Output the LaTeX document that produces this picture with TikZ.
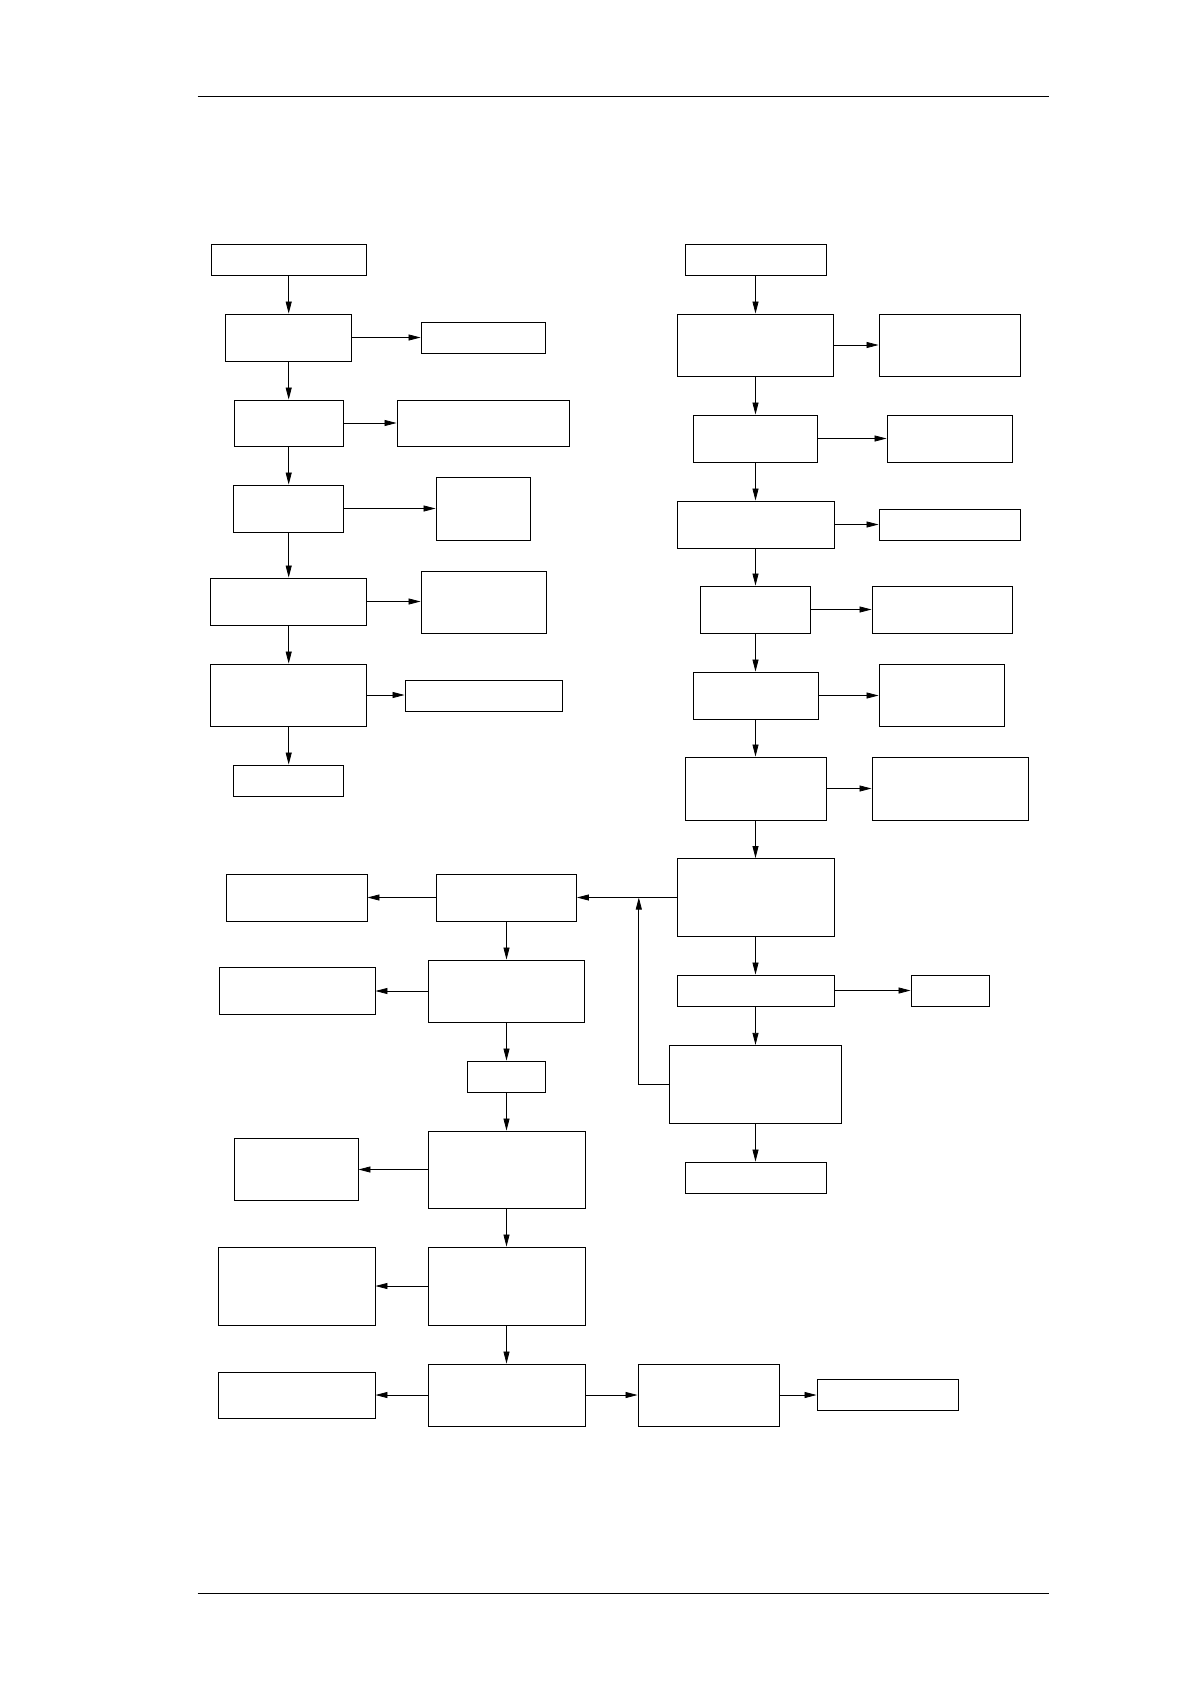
\documentclass[tikz,border=0pt]{standalone}
\usetikzlibrary{arrows.meta}
\begin{document}
\begin{tikzpicture}[x=1pt,y=-1pt,
  box/.style={draw=black,line width=0.9pt,rectangle,inner sep=0pt,fill=white},
  arr/.style={draw=black,line width=0.8pt,-{Triangle[length=12pt,width=6pt]}},
  rule/.style={draw=black,line width=0.8pt}]
\useasboundingbox[fill=white] (0,0) rectangle (1190,1684);
% header and footer rules
\draw[rule] (197.6,96) -- (1049.3,96);
\draw[rule] (197.6,1593) -- (1049.3,1593);
% left column
\node[box,minimum width=155pt,minimum height=31pt] (L1) at (288.7,259.5) {};
\node[box,minimum width=126pt,minimum height=47pt] (L2) at (288.7,337.5) {};
\node[box,minimum width=124pt,minimum height=31pt] (L2R) at (483,337.5) {};
\node[box,minimum width=109pt,minimum height=46pt] (L3) at (288.7,423) {};
\node[box,minimum width=172pt,minimum height=46pt] (L3R) at (483,423) {};
\node[box,minimum width=110pt,minimum height=47pt] (L4) at (288.7,508.5) {};
\node[box,minimum width=94pt,minimum height=63pt] (L4R) at (483,508.5) {};
\node[box,minimum width=156pt,minimum height=47pt] (L5) at (288.7,601.5) {};
\node[box,minimum width=125pt,minimum height=62pt] (L5R) at (483.5,602) {};
\node[box,minimum width=156pt,minimum height=62pt] (L6) at (288.7,695) {};
\node[box,minimum width=157pt,minimum height=31pt] (L6R) at (483.5,695.5) {};
\node[box,minimum width=110pt,minimum height=31pt] (L7) at (288.7,780.5) {};
% right column
\node[box,minimum width=141pt,minimum height=31pt] (R1) at (755.5,259.5) {};
\node[box,minimum width=156pt,minimum height=62pt] (R2) at (755.5,345) {};
\node[box,minimum width=141pt,minimum height=62pt] (R2R) at (949.5,345) {};
\node[box,minimum width=124pt,minimum height=47pt] (R3) at (755.5,438.5) {};
\node[box,minimum width=125pt,minimum height=47pt] (R3R) at (949.5,438.5) {};
\node[box,minimum width=157pt,minimum height=47pt] (R4) at (755.5,524.5) {};
\node[box,minimum width=141pt,minimum height=31pt] (R4R) at (949.5,524.5) {};
\node[box,minimum width=110pt,minimum height=47pt] (R5) at (755.5,609.5) {};
\node[box,minimum width=140pt,minimum height=47pt] (R5R) at (942,609.5) {};
\node[box,minimum width=125pt,minimum height=47pt] (R6) at (755.5,695.5) {};
\node[box,minimum width=125pt,minimum height=62pt] (R6R) at (941.5,695.5) {};
\node[box,minimum width=141pt,minimum height=63pt] (R7) at (755.5,788.5) {};
\node[box,minimum width=156pt,minimum height=63pt] (R7R) at (950,788.5) {};
\node[box,minimum width=157pt,minimum height=78pt] (R8) at (755.5,897.5) {};
\node[box,minimum width=157pt,minimum height=31pt] (R9) at (755.5,990.5) {};
\node[box,minimum width=78pt,minimum height=31pt] (R9R) at (950,990.5) {};
\node[box,minimum width=172pt,minimum height=78pt] (R10) at (755.5,1084.3) {};
\node[box,minimum width=141pt,minimum height=31pt] (R11) at (755.5,1177.5) {};
% centre column
\node[box,minimum width=140pt,minimum height=47pt] (M1) at (506.5,897.5) {};
\node[box,minimum width=141pt,minimum height=47pt] (M1L) at (296.5,897.5) {};
\node[box,minimum width=156pt,minimum height=62pt] (M2) at (506.5,991) {};
\node[box,minimum width=156pt,minimum height=47pt] (M2L) at (297,991) {};
\node[box,minimum width=78pt,minimum height=31pt] (M3) at (506.5,1076.5) {};
\node[box,minimum width=157pt,minimum height=77pt] (B1) at (506.5,1169.5) {};
\node[box,minimum width=124pt,minimum height=62pt] (B1L) at (296,1169.5) {};
\node[box,minimum width=157pt,minimum height=78pt] (B2) at (506.5,1286) {};
\node[box,minimum width=157pt,minimum height=78pt] (B2L) at (296.5,1286) {};
\node[box,minimum width=157pt,minimum height=62pt] (B3) at (506.5,1395) {};
\node[box,minimum width=157pt,minimum height=46pt] (B3L) at (296.5,1395) {};
\node[box,minimum width=141pt,minimum height=62pt] (B4) at (708.5,1395) {};
\node[box,minimum width=141pt,minimum height=31pt] (B5) at (887.5,1395) {};
\coordinate (J) at (638.8,897.5);
% left column connectors
\draw[arr] (L1) -- (L2);
\draw[arr] (L2) -- (L3);
\draw[arr] (L3) -- (L4);
\draw[arr] (L4) -- (L5);
\draw[arr] (L5) -- (L6);
\draw[arr] (L6) -- (L7);
\draw[arr] (L2) -- (L2R);
\draw[arr] (L3) -- (L3R);
\draw[arr] (L4) -- (L4R);
\draw[arr] (L5.east) -- (L5R.west |- L5.east);
\draw[arr] (L6.east) -- (L6R.west |- L6.east);
% right column connectors
\draw[arr] (R1) -- (R2);
\draw[arr] (R2) -- (R3);
\draw[arr] (R3) -- (R4);
\draw[arr] (R4) -- (R5);
\draw[arr] (R5) -- (R6);
\draw[arr] (R6) -- (R7);
\draw[arr] (R7) -- (R8);
\draw[arr] (R8) -- (R9);
\draw[arr] (R9) -- (R10);
\draw[arr] (R10) -- (R11);
\draw[arr] (R2) -- (R2R);
\draw[arr] (R3) -- (R3R);
\draw[arr] (R4) -- (R4R);
\draw[arr] (R5) -- (R5R);
\draw[arr] (R6) -- (R6R);
\draw[arr] (R7) -- (R7R);
\draw[arr] (R9) -- (R9R);
% centre connectors
\draw[arr] (R8) -- (M1);
\draw[arr] (R10.west) -| (J);
\draw[arr] (M1) -- (M1L);
\draw[arr] (M1) -- (M2);
\draw[arr] (M2) -- (M2L);
\draw[arr] (M2) -- (M3);
\draw[arr] (M3) -- (B1);
\draw[arr] (B1) -- (B1L);
\draw[arr] (B1) -- (B2);
\draw[arr] (B2) -- (B2L);
\draw[arr] (B2) -- (B3);
\draw[arr] (B3) -- (B3L);
\draw[arr] (B3) -- (B4);
\draw[arr] (B4) -- (B5);
\end{tikzpicture}
\end{document}
